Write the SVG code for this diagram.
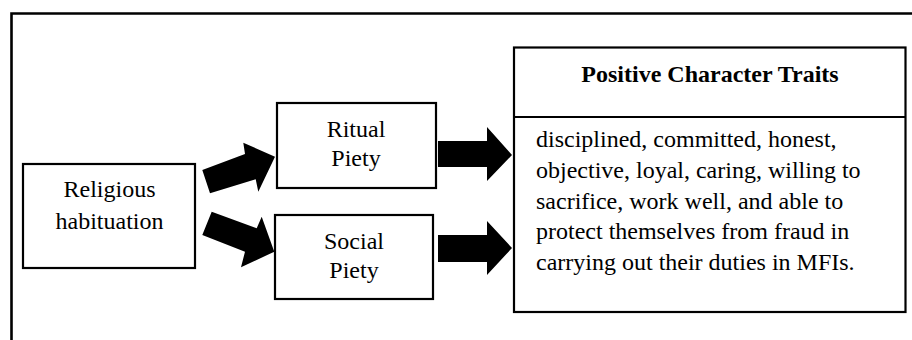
<svg xmlns="http://www.w3.org/2000/svg" width="912" height="340" viewBox="0 0 912 340">
<style>
.box{fill:#fff;stroke:#000;stroke-width:2.2}
.t{font-family:"Liberation Serif","Times New Roman",serif;font-size:24px;fill:#000}
.c{text-anchor:middle}
.b{font-weight:bold}
.arr{fill:#000;stroke:none}
</style>
<rect width="912" height="340" fill="#fff"/>
<path d="M11.5,340 V13.5 H912" fill="none" stroke="#000" stroke-width="2.6"/>
<g id="religious">
<rect class="box" x="23" y="164" width="172" height="104"/>
<text class="t c" x="109.5" y="197">Religious</text>
<text class="t c" x="109.5" y="228.5">habituation</text>
</g>
<g id="ritual">
<rect class="box" x="277" y="103" width="159" height="85"/>
<text class="t c" x="356" y="137">Ritual</text>
<text class="t c" x="356" y="166">Piety</text>
</g>
<g id="social">
<rect class="box" x="275" y="215" width="158" height="84"/>
<text class="t c" x="354" y="249">Social</text>
<text class="t c" x="354" y="278">Piety</text>
</g>
<g id="traits">
<rect class="box" x="514" y="47.5" width="391.5" height="264.5"/>
<line x1="514" y1="117" x2="905.5" y2="117" stroke="#000" stroke-width="2.2"/>
<text class="t c b" x="710" y="82">Positive Character Traits</text>
<text class="t" x="536" y="147">disciplined, committed, honest,</text>
<text class="t" x="536" y="178">objective, loyal, caring, willing to</text>
<text class="t" x="536" y="208.5">sacrifice, work well, and able to</text>
<text class="t" x="536" y="239">protect themselves from fraud in</text>
<text class="t" x="536" y="270">carrying out their duties in MFIs.</text>
</g>
<g id="connectors">
<polygon class="arr" points="202.3,170 245,154 243.3,142.7 275,156.7 258.3,191.7 255.7,179.3 210,193.3"/>
<polygon class="arr" points="211.7,211.7 256.7,228.3 261.7,216.7 274.3,251.7 241,267.3 245,251.7 202.3,235"/>
<polygon class="arr" points="438,141 487,141 487,127 512,155 487,181 487,167 438,167"/>
<polygon class="arr" points="438,235 487,235 487,221 512,248 487,275 487,262 438,262"/>
</g>
</svg>
